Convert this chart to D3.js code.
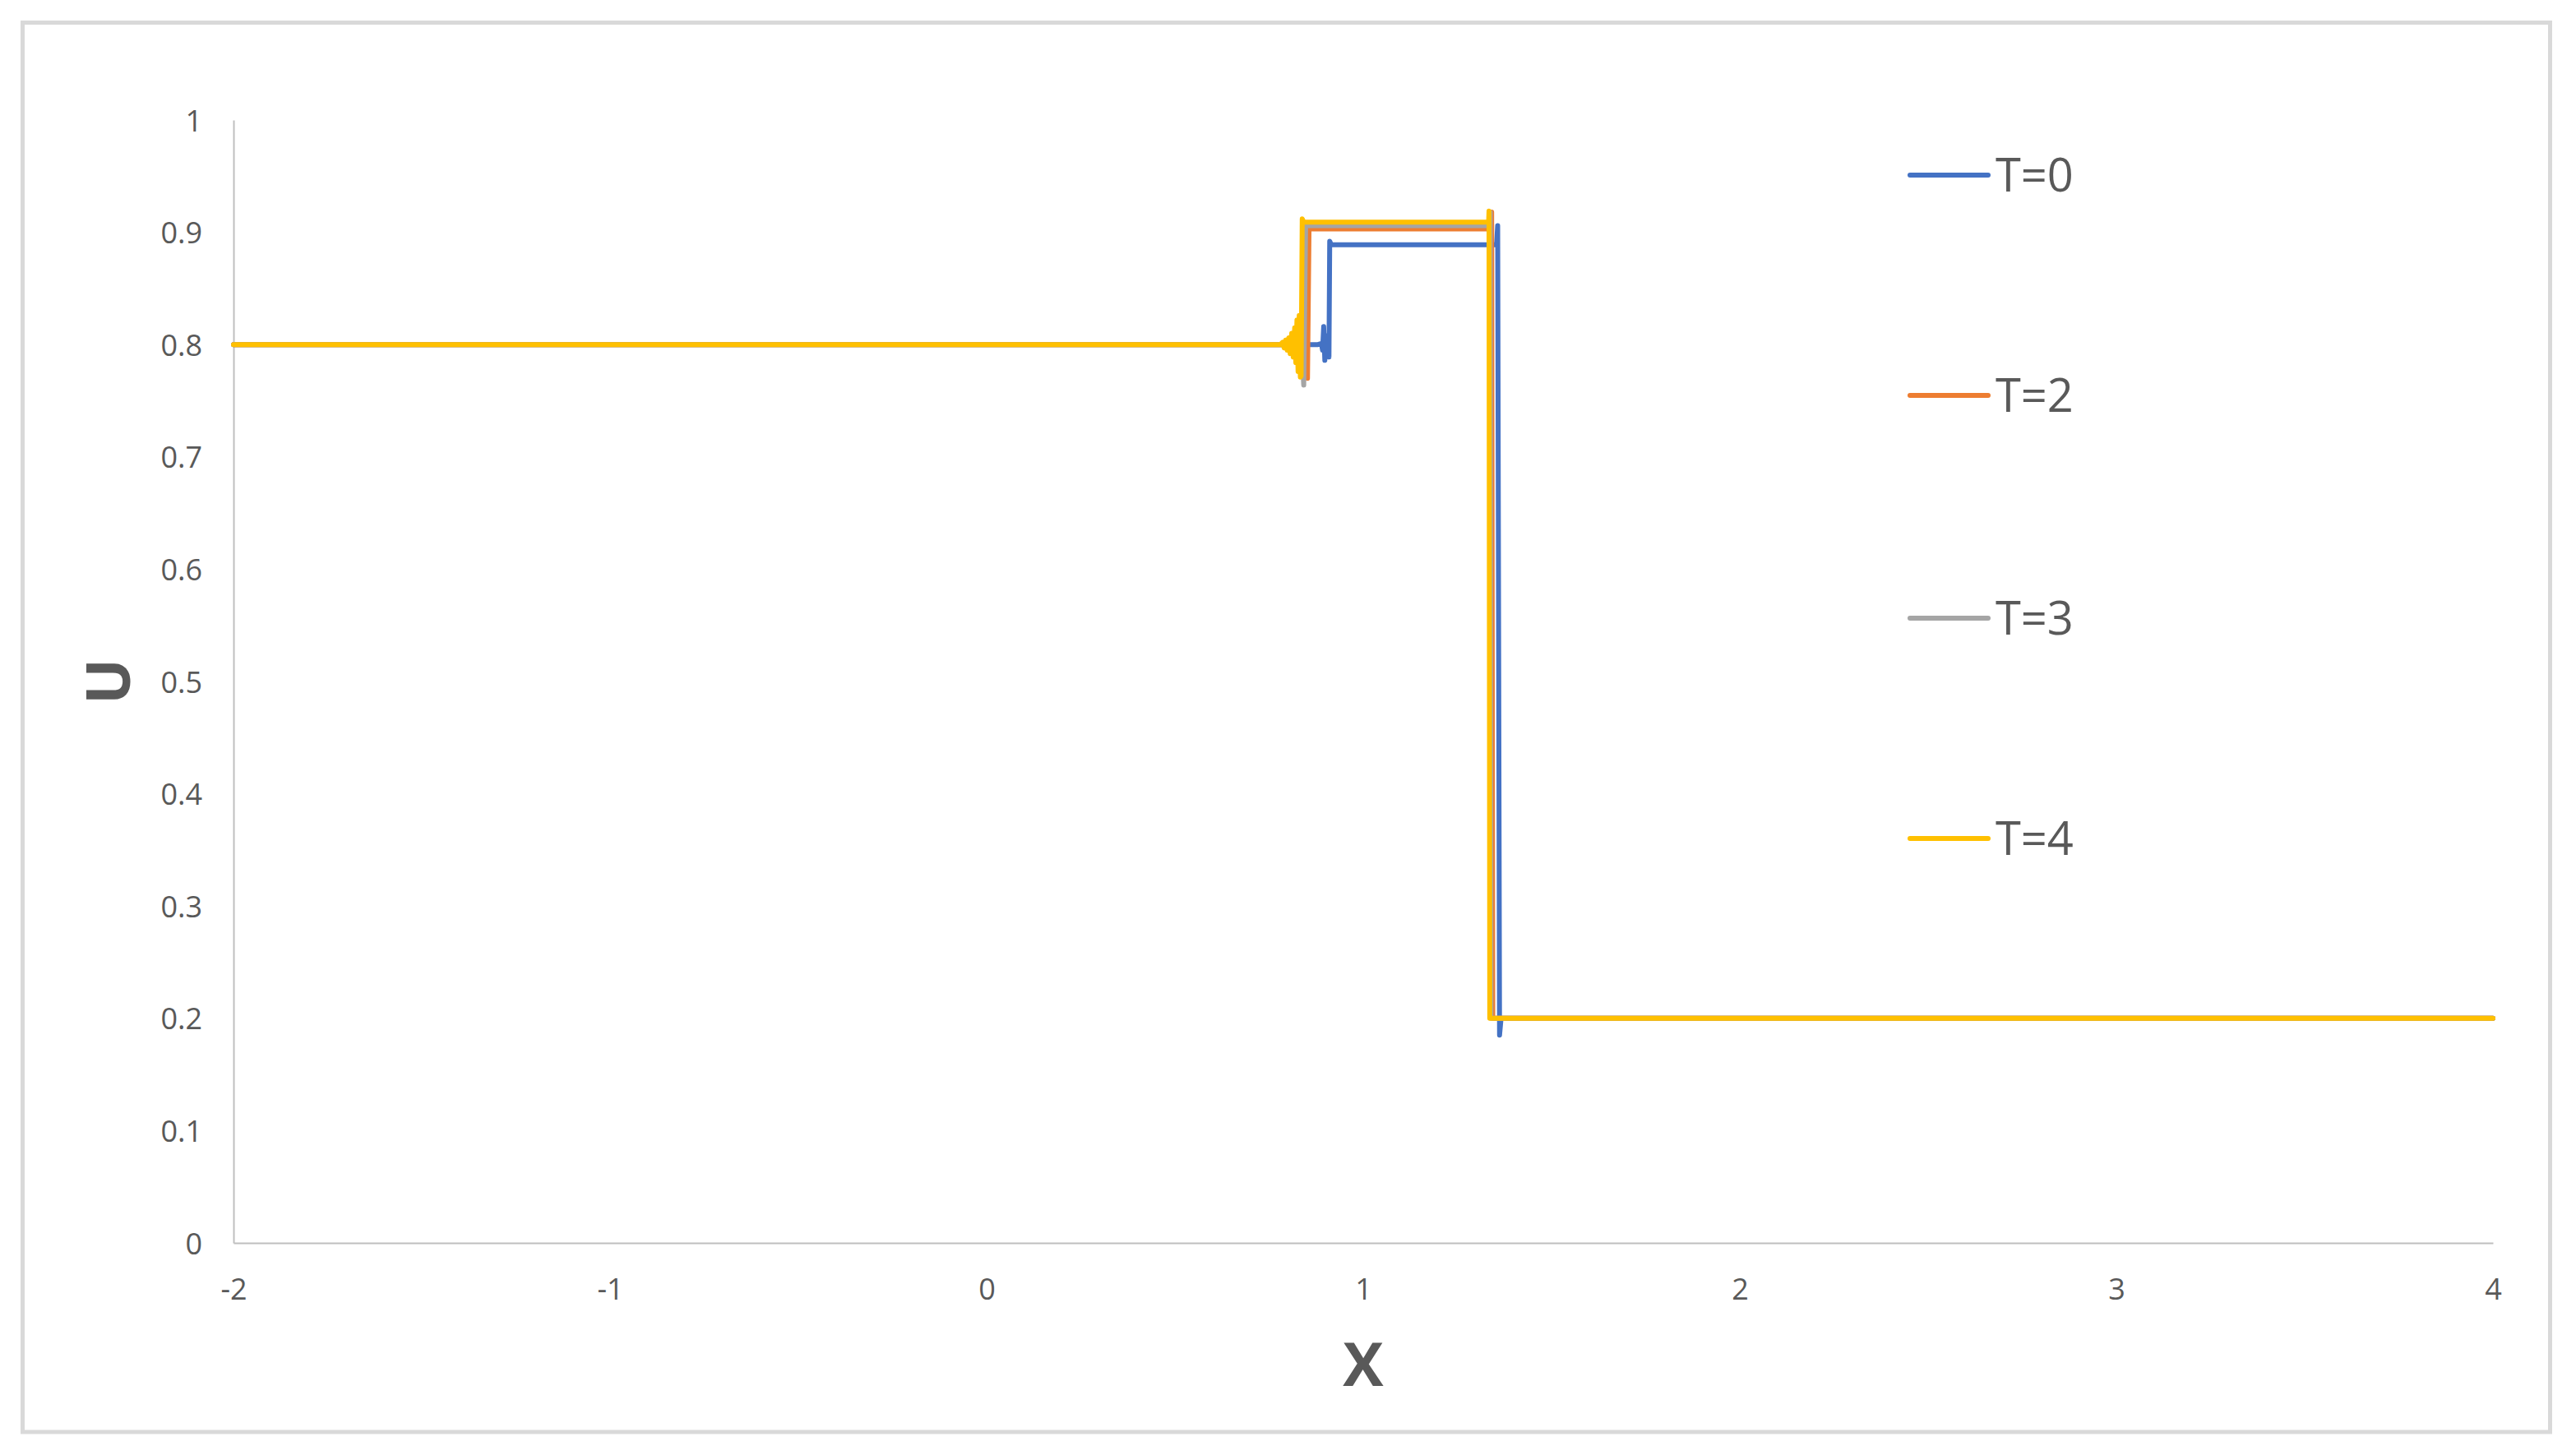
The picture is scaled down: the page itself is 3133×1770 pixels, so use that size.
<!DOCTYPE html>
<html>
<head>
<meta charset="utf-8">
<script src="https://cdn.jsdelivr.net/npm/d3@7"></script>
<style>
  body { margin: 0; background: #fff; }
  text { font-family: "Open Sans", "Liberation Sans", sans-serif; fill: #595959; }
</style>
</head>
<body>
<svg id="chart"></svg>
<script>
// series: [x, U]
var seriesNames = ["T=0", "T=2", "T=3", "T=4"];
var seriesColors = ["#4472C4", "#ED7D31", "#A5A5A5", "#FFC000"];

var t0 = [[-2,0.8],[0.88,0.8],[0.889,0.801],[0.892,0.795],[0.895,0.816],[0.898,0.786],[0.901,0.808],
          [0.904,0.79],[0.907,0.8],[0.909,0.789],[0.911,0.892],[0.915,0.889],[1.354,0.889],
          [1.357,0.906],[1.362,0.185],[1.366,0.2],[4,0.2]];
var t2 = [[-2,0.8],[0.81,0.8],[0.83,0.79],[0.845,0.81],[0.852,0.77],[0.856,0.903],[1.34,0.903],
          [1.341,0.918],[1.344,0.2],[4,0.2]];
var t3 = [[-2,0.8],[0.81,0.8],[0.83,0.79],[0.838,0.79],[0.842,0.764],[0.847,0.906],[1.336,0.906],
          [1.337,0.918],[1.339,0.2],[4,0.2]];
var t4 = [[-2,0.8],[0.78,0.8],[0.786,0.802],[0.79,0.797],[0.794,0.804],[0.798,0.795],[0.802,0.806],
          [0.806,0.792],[0.81,0.81],[0.814,0.789],[0.818,0.815],[0.821,0.784],[0.824,0.822],
          [0.827,0.776],[0.83,0.826],[0.833,0.771],[0.835,0.772],[0.838,0.912],[0.842,0.909],
          [1.333,0.909],[1.334,0.919],[1.336,0.2],[4,0.2]];
var allSeries = [t0, t2, t3, t4];

var xTicks = [-2, -1, 0, 1, 2, 3, 4];
var yTicks = [0, 0.1, 0.2, 0.3, 0.4, 0.5, 0.6, 0.7, 0.8, 0.9, 1];
var xTitle = "X", yTitle = "U";

// size and margins
const W = 3133, H = 1770;
var margin = {top: 146, right: 101, bottom: 258, left: 284},
    width = W - margin.left - margin.right,
    height = H - margin.top - margin.bottom;

var svg = d3.select("#chart")
    .attr("width", W)
    .attr("height", H);

// chart area border
svg.append("rect")
    .attr("x", 27.5).attr("y", 27.5)
    .attr("width", 3074).attr("height", 1714.5)
    .attr("fill", "#fff")
    .attr("stroke", "#D9D9D9")
    .attr("stroke-width", 5);

var g = svg.append("g")
    .attr("transform", "translate(" + margin.left + "," + margin.top + ")");

var x = d3.scaleLinear().domain([-2, 4]).range([0, width]);
var y = d3.scaleLinear().domain([0, 1]).range([height, 0]);

// plain hyphen minus like the original, not the unicode minus d3 uses
var plain = function(d) { return String(+d.toFixed(1)); };

// X axis
var xAxis = g.append("g")
    .attr("transform", "translate(0," + height + ")")
    .call(d3.axisBottom(x).tickValues(xTicks).tickSize(0).tickSizeOuter(0).tickFormat(plain));
xAxis.select(".domain").attr("stroke", "#BFBFBF").attr("stroke-width", 2);
xAxis.selectAll("text")
    .attr("y", 69).attr("dy", 0)
    .style("font-size", "36px")
    .style("font-family", "'Open Sans', sans-serif")
    .attr("fill", "#595959");

// Y axis
var yAxis = g.append("g")
    .call(d3.axisLeft(y).tickValues(yTicks).tickSize(0).tickSizeOuter(0).tickFormat(plain));
yAxis.select(".domain").attr("stroke", "#BFBFBF").attr("stroke-width", 2);
yAxis.selectAll("text")
    .attr("x", -38).attr("dy", 13)
    .style("font-size", "36px")
    .style("font-family", "'Open Sans', sans-serif")
    .attr("fill", "#595959");

// lines
var line = d3.line()
    .x(function(d) { return x(d[0]); })
    .y(function(d) { return y(d[1]); });

g.selectAll(".series")
    .data(allSeries)
    .enter()
    .append("path")
      .attr("class", "series")
      .attr("d", line)
      .attr("fill", "none")
      .attr("stroke", function(d, i) { return seriesColors[i]; })
      .attr("stroke-width", 6)
      .attr("stroke-linejoin", "round")
      .attr("stroke-linecap", "round");

// axis titles
svg.append("text")
    .attr("x", margin.left + width / 2)
    .attr("y", 1686)
    .attr("text-anchor", "middle")
    .style("font-size", "74px")
    .style("font-weight", "bold")
    .text(xTitle);

svg.append("text")
    .attr("transform", "translate(158," + (margin.top + height / 2) + ") rotate(-90)")
    .attr("text-anchor", "middle")
    .style("font-size", "74px")
    .style("font-weight", "bold")
    .text(yTitle);

// legend
var legendY = [213, 481, 752, 1020];
var legend = svg.selectAll(".legend")
    .data(seriesNames)
    .enter()
    .append("g")
      .attr("class", "legend")
      .attr("transform", function(d, i) { return "translate(0," + legendY[i] + ")"; });
legend.append("line")
    .attr("x1", 2323).attr("x2", 2418)
    .attr("stroke", function(d, i) { return seriesColors[i]; })
    .attr("stroke-width", 6)
    .attr("stroke-linecap", "round");
legend.append("text")
    .attr("x", 2427).attr("y", 20)
    .style("font-size", "56px")
    .text(function(d) { return d; });
</script>
</body>
</html>
